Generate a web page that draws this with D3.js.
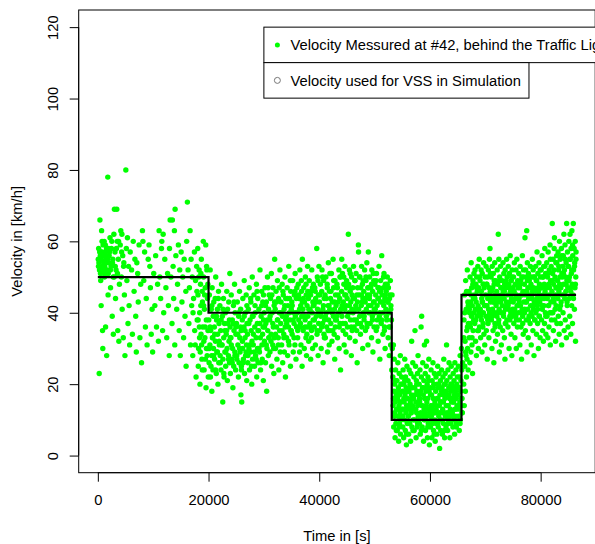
<!DOCTYPE html>
<html>
<head>
<meta charset="utf-8">
<script src="https://cdn.jsdelivr.net/npm/d3@7"></script>
<style>
  html, body { margin: 0; padding: 0; background: #fff; }
  svg { display: block; font-family: "Liberation Sans", Arial, Helvetica, sans-serif; }
</style>
</head>
<body>
<svg id="chart"></svg>
<script>
const measuredEarly = [
  [80,55],[150,58],[200,54],[250,23],[300,52],[380,66],[450,56],[520,49],[550,57],[600,42],[680,63],[720,57],[800,53],[850,35],[900,30],[950,59],
  [1050,54],[1150,60],[1200,50],[1250,53],[1300,57],[1350,59],[1400,36],[1500,55],[1600,28],[1650,56],[1700,52],[1800,78],[1850,45],[1900,58],[1950,54],
  [2050,56],[2200,61],[2300,47],[2400,53],[2530,60],[2600,39],[2700,55],[2800,34],[2900,62],[2950,50],
  [3000,69],[3100,57],[3200,44],[3300,52],[3430,69],[3500,60],[3600,35],[3700,55],[3800,32],[3900,48],
  [4050,59],[4150,63],[4250,50],[4350,62],[4400,41],[4500,56],[4600,33],[4700,54],[4800,45],[4900,28],
  [5060,80],[5150,58],[5250,49],[5350,61],[5450,37],[5550,53],[5650,42],[5750,31],[5850,57],
  [6100,52],[6250,34],[6400,60],[6550,46],[6700,55],[6850,39],[6950,29],
  [7050,54],[7200,51],[7300,43],[7450,59],[7600,33],[7750,48],[7900,26],
  [8060,63],[8150,60],[8300,49],[8450,57],[8600,36],[8750,44],[8900,31],
  [9100,55],[9250,59],[9400,53],[9500,47],[9650,34],[9800,41],[9900,29],
  [10100,51],[10300,42],[10450,56],[10600,36],[10800,48],[10950,32],
  [11070,63],[11200,50],[11350,44],[11500,58],[11560,60],[11700,35],[11800,62],[11900,40],
  [12100,55],[12300,47],[12450,33],[12600,51],[12750,42],[12900,28],[12950,58],
  [13060,66],[13200,50],[13400,37],[13470,66],[13600,53],[13700,44],[13840,63],[13900,31],[13960,69],
  [14100,56],[14250,41],[14400,48],[14550,59],[14700,35],[14800,52],[14900,28],
  [15050,57],[15200,43],[15350,50],[15500,33],[15600,55],[15750,39],[15900,46],[15950,25],
  [16050,60],[16180,71],[16300,52],[16450,37],[16550,47],[16670,63],[16750,31],[16850,55],[16950,42],
  [17050,50],[17150,28],[17300,44],[17450,57],[17500,35],[17650,49],[17750,22],[17850,53],[17950,38],
  [18050,58],[18100,45],[18150,25],[18200,30],[18250,50],[18300,52],[18350,36],[18400,40],[18450,20],[18500,29],[18550,48],[18600,42],[18650,34],[18700,55],[18750,31],[18800,27],[18850,46],[18900,43],[18950,36],
  [19050,60],[19100,50],[19150,32],[19200,24],[19250,41],[19300,45],[19350,33],[19400,47],[19450,27],[19500,59],[19550,19],[19600,38],[19650,53],[19700,52],[19750,28],[19800,44],[19850,30],[19900,35],[19950,22],
  [120,53],[340,57],[480,51],[640,55],[760,60],[880,52],[1120,56],[1280,51],[1440,54],[1580,58],[1740,55],[1880,51],
  [2120,57],[2270,52],[2460,58],[2640,54],[2780,50],[3150,53],[3360,58],[3550,51],[3750,60],[4300,57],[4650,53],
  [17200,40],[17600,31],[17900,46],[18120,38],[18380,33],[18620,51],[18880,24],[19120,42],[19380,36],[19620,30],[19880,48]
];

const measuredMid = [
  [20050,38],[20100,26],[20150,45],[20250,31],[20300,52],[20350,22],[20400,35],[20500,41],[20550,28],[20600,18],[20650,47],[20700,33],[20800,24],[20850,39],[20900,30],[20950,43],
  [21050,36],[21100,27],[21200,44],[21250,32],[21300,50],[21400,23],[21450,38],[21500,29],[21600,41],[21650,34],[21700,20],[21800,46],[21850,26],[21900,37],[21950,31],
  [22050,42],[22100,28],[22200,35],[22250,24],[22350,48],[22400,31],[22500,39],[22570,15],[22600,27],[22700,44],[22750,33],[22800,22],[22900,37],[22950,29],
  [23050,40],[23100,25],[23200,34],[23300,46],[23350,30],[23400,21],[23500,37],[23600,28],[23650,43],[23700,32],[23800,26],[23850,51],[23900,36],[23950,23],
  [24050,33],[24100,45],[24200,27],[24300,38],[24350,30],[24400,19],[24500,42],[24550,25],[24600,35],[24700,48],[24750,29],[24800,40],[24900,24],[24950,34],
  [25050,37],[25100,28],[25200,43],[25300,31],[25400,22],[25450,39],[25500,26],[25600,46],[25650,33],[25700,29],[25800,41],[25850,17],[25900,35],[25950,24],
  [26000,15],[26100,38],[26150,30],[26200,44],[26300,27],[26400,36],[26450,49],[26500,23],[26600,33],[26650,40],[26700,28],[26800,45],[26850,31],[26900,21],[26950,37],
  [27050,34],[27100,26],[27200,41],[27300,30],[27350,47],[27400,24],[27500,38],[27600,29],[27650,43],[27700,35],[27800,20],[27850,32],[27900,50],[27950,27],
  [28050,39],[28100,31],[28200,45],[28300,25],[28350,36],[28400,42],[28500,28],[28600,33],[28650,48],[28700,22],[28800,37],[28850,30],[28900,44],[28950,26],
  [29050,35],[29100,41],[29200,29],[29300,52],[29350,33],[29400,24],[29500,39],[29600,46],[29650,31],[29700,27],[29800,43],[29850,36],[29900,21],[29950,38],
  [30050,40],[30100,32],[30200,47],[30300,26],[30350,37],[30450,43],[30500,18],[30550,30],[30650,50],[30700,35],[30800,28],[30850,41],[30900,33],[30950,45],
  [31050,38],[31100,29],[31200,44],[31300,34],[31350,51],[31400,25],[31500,40],[31600,31],[31650,47],[31700,36],[31800,23],[31850,42],[31900,33],[31950,55],
  [32050,41],[32100,30],[32200,46],[32300,36],[32350,27],[32450,49],[32500,38],[32600,33],[32650,44],[32700,24],[32800,40],[32850,35],[32900,52],[32950,29],
  [33050,37],[33100,43],[33200,31],[33300,48],[33350,39],[33400,26],[33500,45],[33600,34],[33650,41],[33700,29],[33800,50],[33850,36],[33900,22],[33950,44],
  [34050,39],[34100,33],[34200,47],[34300,28],[34350,42],[34450,36],[34500,53],[34550,31],[34650,44],[34700,38],[34800,25],[34850,46],[34900,35],[34950,41],
  [35050,43],[35100,34],[35200,49],[35300,29],[35350,40],[35450,37],[35500,45],[35600,31],[35650,51],[35700,39],[35800,27],[35850,44],[35900,36],[35950,47],
  [36050,40],[36100,33],[36200,48],[36300,38],[36350,44],[36450,29],[36500,52],[36600,36],[36650,42],[36700,31],[36800,46],[36850,39],[36900,25],[36950,55],
  [37050,41],[37100,35],[37200,47],[37300,30],[37350,43],[37450,38],[37500,50],[37600,33],[37650,45],[37700,28],[37800,42],[37850,36],[37900,53],[37950,39],
  [38050,44],[38100,32],[38200,49],[38300,37],[38350,41],[38450,27],[38500,46],[38600,35],[38650,52],[38700,40],[38800,30],[38850,43],[38900,38],[38950,48],
  [39050,42],[39100,36],[39200,47],[39300,31],[39350,44],[39450,39],[39550,58],[39600,34],[39650,50],[39700,41],[39800,28],[39850,45],[39900,37],[39950,53],
  [40050,43],[40100,35],[40200,48],[40300,39],[40350,30],[40450,46],[40500,52],[40600,37],[40650,41],[40700,26],[40800,49],[40850,34],[40900,44],[40950,38],
  [41050,45],[41100,33],[41200,50],[41300,40],[41350,36],[41450,47],[41500,29],[41600,42],[41650,54],[41700,38],[41800,31],[41850,46],[41900,41],[41950,35],
  [42050,44],[42100,37],[42200,51],[42300,32],[42350,43],[42500,55],[42550,39],[42600,47],[42700,34],[42750,41],[42800,27],[42850,49],[42900,36],[42950,45],
  [43050,42],[43100,38],[43200,48],[43300,33],[43400,45],[43500,40],[43550,52],[43600,30],[43700,44],[43750,37],[43800,50],[43850,24],[43900,41],[44070,55],
  [44050,46],[44100,39],[44200,51],[44300,35],[44350,43],[44450,48],[44500,31],[44600,41],[44650,53],[44700,37],[44800,45],[44850,29],[44900,42],[44950,49],
  [45050,44],[45100,36],[45260,62],[45300,48],[45350,40],[45450,52],[45500,33],[45600,46],[45650,38],[45700,43],[45800,28],[45850,50],[45900,41],[45950,35],
  [46050,47],[46100,40],[46200,53],[46300,36],[46350,44],[46450,49],[46500,32],[46600,42],[46650,51],[46700,38],[46800,45],[46850,26],[46900,43],[46950,37],
  [47070,59],[47100,57],[47200,45],[47300,39],[47350,50],[47450,34],[47500,47],[47600,42],[47650,53],[47700,36],[47800,48],[47850,30],[47900,44],[47950,40],
  [48050,46],[48100,38],[48200,52],[48300,43],[48350,35],[48450,49],[48500,41],[48600,54],[48650,37],[48700,45],[48800,31],[48870,57],[48900,47],[48950,40],
  [49050,44],[49100,50],[49200,37],[49300,47],[49350,42],[49450,33],[49500,52],[49600,39],[49650,46],[49700,29],[49800,43],[49850,49],[49900,36],[49950,41],
  [50050,48],[50100,40],[50200,45],[50300,35],[50350,51],[50450,42],[50500,38],[50600,47],[50650,32],[50700,44],[50800,53],[50850,39],[50900,46],[50950,27],
  [51050,43],[51100,49],[51200,37],[51290,56],[51350,45],[51450,40],[51500,34],[51600,47],[51650,42],[51700,51],[51800,36],[51850,44],[51900,30],[51950,48],
  [52050,41],[52100,46],[52200,38],[52300,50],[52350,43],[52450,33],[52500,47],[52600,40],[52650,28],[52700,44],[52800,36],[52850,49],[52900,31],[52950,42],
  [53050,38],[53100,24],[53150,45],[53200,30],
  // denser core of the cloud
  [20120,30],[20280,36],[20440,25],[20610,42],[20770,33],[20930,28],
  [21120,34],[21280,24],[21440,39],[21610,29],[21770,44],[21930,32],
  [22120,26],[22280,38],[22440,31],[22610,41],[22770,23],[22930,35],
  [23120,29],[23280,35],[23440,41],[23610,27],[23770,38],[23930,33],
  [24120,31],[24280,26],[24440,37],[24610,43],[24770,28],[24930,36],
  [25120,27],[25280,34],[25440,40],[25610,30],[25770,36],[25930,25],
  [26120,32],[26280,26],[26440,39],[26610,35],[26770,29],[26930,42],
  [27120,28],[27280,37],[27440,31],[27610,44],[27770,25],[27930,39],
  [28120,34],[28280,29],[28440,40],[28610,27],[28770,46],[28930,35],
  [29120,30],[29280,37],[29440,26],[29610,42],[29770,34],[29930,45],
  [30120,36],[30280,42],[30440,31],[30610,38],[30770,47],[30930,33],
  [31120,39],[31280,32],[31440,45],[31610,37],[31770,30],[31930,43],
  [32120,34],[32280,43],[32440,38],[32610,31],[32770,47],[32930,40],
  [33120,40],[33280,35],[33440,46],[33610,33],[33770,42],[33930,38],
  [34120,37],[34280,44],[34440,32],[34610,40],[34770,49],[34930,35],
  [35120,42],[35280,38],[35440,33],[35610,46],[35770,40],[35930,36],
  [36120,35],[36280,45],[36440,41],[36610,37],[36770,49],[36930,43],
  [37120,44],[37280,39],[37440,36],[37610,48],[37770,34],[37930,46],
  [38120,41],[38280,36],[38440,45],[38610,33],[38770,47],[38930,42],
  [39120,38],[39280,46],[39440,43],[39610,35],[39770,49],[39930,40],
  [40120,45],[40280,40],[40440,36],[40610,50],[40770,42],[40930,33],
  [41120,39],[41280,44],[41440,48],[41610,35],[41770,42],[41930,51],
  [42120,46],[42280,40],[42440,35],[42610,49],[42770,43],[42930,38],
  [43120,39],[43280,47],[43440,43],[43610,36],[43770,50],[43930,41],
  [44120,42],[44280,37],[44440,50],[44610,45],[44770,34],[44930,47],
  [45120,39],[45280,47],[45440,42],[45610,51],[45770,36],[45930,45],
  [46120,44],[46280,38],[46440,49],[46610,41],[46770,35],[46930,47],
  [47120,41],[47280,50],[47440,37],[47610,45],[47770,43],[47930,49],
  [48120,39],[48280,44],[48440,50],[48610,36],[48770,47],[48930,42],
  [49120,45],[49280,40],[49440,48],[49610,38],[49770,51],[49930,43],
  [50120,41],[50280,49],[50440,36],[50610,44],[50770,47],[50930,40],
  [51120,46],[51280,38],[51440,43],[51610,50],[51770,35],[51930,45],
  [52120,39],[52280,48],[52440,43],[52610,36],[52770,45],[52930,41]
];

const measuredJam = [
  [53300,22],[53350,14],[53400,31],[53450,8],[53500,18],[53550,27],[53600,11],[53650,20],[53700,5],[53750,15],[53800,24],[53850,9],[53900,17],[53950,13],
  [54050,21],[54100,7],[54150,16],[54200,26],[54250,11],[54300,19],[54350,4],[54400,14],[54450,23],[54500,9],[54550,17],[54600,12],[54650,28],[54700,6],[54750,20],[54800,15],[54850,10],[54900,22],[54950,13],
  [55050,18],[55100,8],[55150,24],[55200,13],[55250,5],[55300,20],[55350,15],[55400,10],[55450,27],[55500,17],[55550,7],[55600,22],[55650,12],[55700,19],[55750,3],[55800,14],[55850,25],[55900,9],[55950,16],
  [56050,21],[56100,11],[56150,6],[56200,18],[56250,24],[56300,13],[56350,9],[56400,20],[56450,15],[56500,4],[56550,23],[56600,12],[56650,17],[56700,32],[56750,8],[56800,19],[56850,14],[56900,26],[56950,10],
  [57050,16],[57100,22],[57150,7],[57200,13],[57250,19],[57300,35],[57350,10],[57400,25],[57450,15],[57500,5],[57550,21],[57600,12],[57650,18],[57700,8],[57750,23],[57800,14],[57850,28],[57900,11],[57950,17],
  [58050,20],[58100,9],[58150,15],[58200,24],[58250,6],[58300,18],[58350,12],[58400,36],[58450,22],[58500,39],[58550,14],[58600,8],[58650,19],[58700,26],[58750,11],[58800,17],[58850,4],[58900,21],[58950,13],
  [59000,31],[59050,16],[59100,10],[59150,23],[59200,7],[59250,19],[59300,14],[59350,25],[59400,32],[59450,11],[59500,20],[59550,5],[59600,16],[59650,22],[59700,9],[59750,13],[59800,27],[59850,18],[59900,3],[59950,12],
  [60050,19],[60100,8],[60150,14],[60200,24],[60250,11],[60300,17],[60350,5],[60400,21],[60450,13],[60500,9],[60550,26],[60600,16],[60650,7],[60700,20],[60750,12],[60800,23],[60850,10],[60900,15],[60950,4],
  [61050,18],[61100,22],[61150,9],[61200,14],[61250,6],[61300,20],[61350,12],[61400,25],[61450,16],[61500,8],[61550,19],[61600,11],[61650,23],[61700,14],[61750,2],[61800,17],[61850,10],[61900,21],[61950,7],
  [62050,15],[62100,24],[62150,10],[62200,19],[62250,6],[62300,13],[62350,22],[62400,17],[62450,9],[62500,27],[62550,12],[62600,20],[62650,5],[62700,16],[62750,23],[62800,11],[62850,18],[62900,8],[62950,14],
  [63000,31],[63050,21],[63100,12],[63150,17],[63200,7],[63250,24],[63300,14],[63350,10],[63400,19],[63450,26],[63500,11],[63550,16],[63600,5],[63650,22],[63700,13],[63750,18],[63800,9],[63850,25],[63900,15],[63950,20],
  [64050,12],[64100,19],[64150,8],[64200,23],[64250,15],[64300,10],[64350,21],[64400,17],[64450,6],[64500,26],[64550,13],[64600,18],[64650,11],[64700,24],[64750,16],[64800,9],[64850,20],[64900,14],[64950,22],
  [65050,17],[65100,11],[65150,25],[65200,13],[65250,19],[65300,7],[65350,22],[65400,15],[65450,28],[65500,10],[65550,18],[65600,21],[65650,14],[65700,30],[65750,24],[65800,16],[65850,12],[65900,26],
  [53420,16],[53610,12],[53780,21],[53930,7],
  [54120,13],[54280,18],[54440,8],[54610,15],[54770,11],[54930,20],
  [55120,11],[55280,16],[55440,21],[55610,13],[55770,6],[55930,18],
  [56120,14],[56280,9],[56440,19],[56610,12],[56770,16],[56930,7],
  [57120,10],[57280,17],[57440,13],[57610,20],[57770,9],[57930,15],
  [58120,16],[58280,11],[58440,7],[58610,14],[58770,19],[58930,10],
  [59120,12],[59280,18],[59440,15],[59610,8],[59770,21],[59930,13],
  [60120,17],[60280,10],[60440,14],[60610,19],[60770,6],[60930,12],
  [61120,13],[61280,16],[61440,9],[61610,20],[61770,12],[61930,15],
  [62120,18],[62280,12],[62440,15],[62610,7],[62770,20],[62930,11],
  [63120,14],[63280,9],[63440,17],[63610,12],[63770,20],[63930,16],
  [64120,11],[64280,15],[64440,19],[64610,13],[64770,8],[64930,17],
  [65120,14],[65280,19],[65440,9],[65610,16],[65770,12]
];

const measuredLate = [
  [66100,20],[66150,38],[66200,14],[66250,45],[66300,25],[66350,32],[66400,18],[66450,49],[66500,28],[66550,41],[66600,22],[66650,35],[66700,27],[66750,52],[66800,30],[66850,43],[66900,24],[66950,37],
  [67050,46],[67100,33],[67150,40],[67200,26],[67250,50],[67300,36],[67350,43],[67400,29],[67450,54],[67500,39],[67550,47],[67600,31],[67650,42],[67700,23],[67750,48],[67800,35],[67850,44],[67900,38],[67950,51],
  [68050,45],[68100,37],[68150,52],[68200,41],[68250,32],[68300,48],[68350,43],[68400,28],[68450,50],[68500,39],[68550,46],[68600,35],[68650,53],[68700,42],[68750,30],[68800,47],[68850,40],[68900,55],[68950,36],
  [69050,49],[69100,41],[69150,33],[69200,46],[69250,52],[69300,38],[69350,44],[69400,29],[69450,51],[69500,43],[69550,36],[69600,48],[69650,40],[69700,54],[69750,34],[69800,47],[69850,42],[69900,31],[69950,50],
  [70050,45],[70100,39],[70150,53],[70200,35],[70250,48],[70300,42],[70350,27],[70400,50],[70450,44],[70500,37],[70550,52],[70600,41],[70650,33],[70700,47],[70750,55],[70800,39],[70850,58],[70900,46],[70950,43],
  [71050,50],[71100,38],[71150,44],[71200,30],[71250,53],[71300,41],[71350,47],[71400,35],[71450,51],[71500,43],[71550,26],[71600,48],[71650,40],[71700,54],[71750,37],[71800,45],[71850,32],[71900,49],[71950,42],
  [72050,46],[72100,39],[72150,52],[72200,34],[72250,48],[72300,43],[72350,62],[72400,37],[72450,55],[72500,41],[72550,29],[72600,50],[72650,44],[72700,36],[72750,53],[72800,47],[72850,40],[72900,31],[72950,45],
  [73050,49],[73100,42],[73150,35],[73200,54],[73250,46],[73300,39],[73350,51],[73400,44],[73450,33],[73500,48],[73550,27],[73600,52],[73650,41],[73700,37],[73750,47],[73800,43],[73850,55],[73900,38],[73950,50],
  [74050,45],[74100,36],[74150,53],[74200,41],[74250,48],[74300,30],[74350,51],[74400,43],[74450,38],[74500,56],[74550,46],[74600,40],[74650,34],[74700,49],[74750,44],[74800,28],[74850,52],[74900,39],[74950,47],
  [75050,43],[75100,50],[75150,37],[75200,46],[75250,54],[75300,41],[75350,33],[75400,48],[75450,44],[75500,39],[75550,52],[75600,30],[75650,45],[75700,55],[75750,42],[75800,36],[75850,49],[75900,47],[75950,40],
  [76050,51],[76100,44],[76150,38],[76200,47],[76250,31],[76300,53],[76350,42],[76400,49],[76450,36],[76500,45],[76550,27],[76600,50],[76650,41],[76700,56],[76750,39],[76800,46],[76850,34],[76900,52],[76950,43],
  [77050,48],[77100,40],[77170,61],[77200,45],[77250,35],[77300,52],[77350,43],[77400,38],[77450,50],[77480,63],[77500,46],[77550,29],[77600,54],[77650,41],[77700,47],[77750,33],[77800,51],[77850,44],[77900,39],[77950,49],
  [78050,45],[78100,37],[78150,53],[78200,42],[78250,48],[78300,31],[78350,50],[78400,44],[78450,39],[78500,55],[78550,46],[78600,35],[78650,52],[78700,41],[78750,47],[78800,28],[78850,43],[78900,50],[78950,38],
  [79050,46],[79100,53],[79150,40],[79200,49],[79250,34],[79300,44],[79350,57],[79400,42],[79450,37],[79500,51],[79550,47],[79600,30],[79650,45],[79700,54],[79750,39],[79800,48],[79850,43],[79900,33],[79950,50],
  [80050,44],[80100,52],[80150,38],[80200,47],[80250,56],[80300,41],[80350,35],[80400,50],[80450,45],[80500,32],[80550,53],[80600,42],[80650,48],[80700,37],[80750,58],[80800,46],[80850,40],[80900,51],[80950,34],
  [81050,47],[81100,54],[81150,39],[81200,44],[81250,50],[81300,33],[81350,57],[81400,42],[81450,48],[81500,36],[81550,52],[81600,45],[81650,40],[81700,59],[81750,31],[81800,49],[81850,43],[81900,53],[81950,38],
  [82050,46],[82100,65],[82150,51],[82200,40],[82250,55],[82300,35],[82350,48],[82400,43],[82450,58],[82500,61],[82550,38],[82600,50],[82650,45],[82700,32],[82750,54],[82800,42],[82850,47],[82900,56],[82950,37],
  [83050,49],[83100,44],[83150,57],[83200,39],[83250,52],[83300,46],[83350,34],[83400,60],[83450,41],[83500,50],[83550,55],[83600,37],[83650,47],[83700,43],[83750,58],[83800,31],[83850,51],[83900,45],[83950,53],
  [84050,40],[84100,56],[84150,48],[84200,62],[84250,35],[84300,52],[84350,44],[84400,59],[84450,38],[84500,50],[84550,46],[84600,54],[84650,33],[84700,65],[84750,49],[84800,42],[84850,57],[84900,47],[84950,36],
  [85050,53],[85100,60],[85150,44],[85200,50],[85250,39],[85300,62],[85350,55],[85400,47],[85450,34],[85500,58],[85550,51],[85600,42],[85650,63],[85700,48],[85750,37],[85800,56],[85850,45],[85900,65],[85950,52],
  [86050,58],[86100,41],[86150,54],[86200,47],[86250,60],[86300,32],[86350,50],[86400,57],
  [66120,33],[66280,40],[66440,29],[66610,46],[66770,36],[66930,42],
  [67120,41],[67280,37],[67440,45],[67610,33],[67770,49],[67930,40],
  [68120,44],[68280,38],[68440,47],[68610,41],[68770,35],[68930,50],
  [69120,39],[69280,46],[69440,43],[69610,37],[69770,48],[69930,42],
  [70120,42],[70280,48],[70440,38],[70610,45],[70770,40],[70930,51],
  [71120,46],[71280,39],[71440,43],[71610,49],[71770,36],[71930,44],
  [72120,40],[72280,45],[72440,38],[72610,49],[72770,43],[72930,47],
  [73120,44],[73280,40],[73440,46],[73610,37],[73770,49],[73930,42],
  [74120,42],[74280,47],[74440,39],[74610,45],[74770,50],[74930,41],
  [75120,46],[75280,40],[75440,44],[75610,38],[75770,48],[75930,42],
  [76120,43],[76280,48],[76440,40],[76610,45],[76770,37],[76930,50],
  [77120,41],[77280,46],[77440,43],[77610,49],[77770,38],[77930,44],
  [78120,47],[78280,40],[78440,45],[78610,42],[78770,50],[78930,38],
  [79120,43],[79280,49],[79440,41],[79610,46],[79770,39],[79930,52],
  [80120,47],[80280,42],[80440,50],[80610,44],[80770,53],[80930,39],
  [81120,45],[81280,51],[81440,42],[81610,47],[81770,55],[81930,40],
  [82120,49],[82280,44],[82440,52],[82610,41],[82770,47],[82930,54],
  [83120,45],[83280,53],[83440,48],[83610,42],[83770,56],[83930,50],
  [84120,51],[84280,45],[84440,55],[84610,48],[84770,43],[84930,53],
  [85120,49],[85280,55],[85440,46],[85610,52],[85770,59],[85930,44],
  [86120,53],[86280,48],[86380,55]
];

// velocity used for VSS (step function)
const stepTimes = [0, 20000, 53100, 65700, 86400];
const stepLevels = [50, 40, 10, 45];

const xTicks = [0, 20000, 40000, 60000, 80000];
const yTicks = [0, 20, 40, 60, 80, 100, 120];
const legendLabels = ["Velocity Messured at #42, behind the Traffic Light", "Velocity used for VSS in Simulation"];

const width = 595, height = 544;
const margin = {top: 10, right: -0.2, bottom: 71.3, left: 78.7};
const fontSize = 14.75;

const svg = d3.select("#chart").attr("width", width).attr("height", height);

// R style: data range padded by 4% on each side
const pad = (a, b) => [a - (b - a) * 0.04, b + (b - a) * 0.04];
const x = d3.scaleLinear().domain(pad(0, 86400)).range([margin.left, width - margin.right]);
const y = d3.scaleLinear().domain(pad(0, 120)).range([height - margin.bottom, margin.top]);

const allPoints = measuredEarly.concat(measuredMid, measuredJam, measuredLate);

svg.append("g")
  .selectAll("circle")
  .data(allPoints)
  .join("circle")
    .attr("cx", d => x(d[0]))
    .attr("cy", d => y(d[1]))
    .attr("r", 2.7)
    .attr("fill", "#00ff00");

// step line
const steps = [];
stepLevels.forEach((v, i) => {
  steps.push([stepTimes[i], v]);
  steps.push([stepTimes[i + 1], v]);
});
svg.append("path")
  .datum(steps)
  .attr("fill", "none")
  .attr("stroke", "#000")
  .attr("stroke-width", 2.2)
  .attr("d", d3.line().x(d => x(d[0])).y(d => y(d[1])));

// frame
svg.append("rect")
  .attr("x", margin.left)
  .attr("y", margin.top)
  .attr("width", width - margin.right - margin.left)
  .attr("height", height - margin.bottom - margin.top)
  .attr("fill", "none")
  .attr("stroke", "#000")
  .attr("stroke-width", 1);

// axes
const xAxis = svg.append("g")
  .attr("transform", `translate(0,${height - margin.bottom})`)
  .call(d3.axisBottom(x).tickValues(xTicks).tickFormat(d3.format("d")).tickSize(9).tickSizeOuter(0));
xAxis.select(".domain").remove();
xAxis.append("line")
  .attr("x1", x(xTicks[0])).attr("x2", x(xTicks[xTicks.length - 1]))
  .attr("stroke", "#000");
xAxis.selectAll("text")
  .attr("y", 32.3).attr("dy", 0)
  .attr("fill", "#000")
  .style("font-size", fontSize + "px")
  .style("font-family", "Liberation Sans, Arial, sans-serif");

const yAxis = svg.append("g")
  .attr("transform", `translate(${margin.left},0)`)
  .call(d3.axisLeft(y).tickValues(yTicks).tickSize(9).tickSizeOuter(0));
yAxis.select(".domain").remove();
yAxis.append("line")
  .attr("y1", y(yTicks[0])).attr("y2", y(yTicks[yTicks.length - 1]))
  .attr("stroke", "#000");
yAxis.selectAll("text")
  .attr("x", 0).attr("dy", 0)
  .attr("transform", "translate(-20.4,0) rotate(-90)")
  .attr("text-anchor", "middle")
  .attr("fill", "#000")
  .style("font-size", fontSize + "px")
  .style("font-family", "Liberation Sans, Arial, sans-serif");

// axis titles
svg.append("text")
  .attr("x", (margin.left + width - margin.right) / 2)
  .attr("y", 540.5)
  .attr("text-anchor", "middle")
  .style("font-size", fontSize + "px")
  .text("Time in [s]");

svg.append("text")
  .attr("transform", `translate(22,${(margin.top + height - margin.bottom) / 2}) rotate(-90)`)
  .attr("text-anchor", "middle")
  .style("font-size", fontSize + "px")
  .text("Velocity in [km/h]");

// legend, anchored at (30000, 120) like R legend(); the first row runs past the right edge as in the original
const lx = x(30000), ly = y(120);
const rowH = 35.5;
const legend = svg.append("g");
legendLabels.forEach((label, i) => {
  const g = legend.append("g").attr("transform", `translate(${lx},${ly + i * rowH})`);
  const box = g.append("rect")
    .attr("height", rowH)
    .attr("fill", "#fff")
    .attr("stroke", "#000")
    .attr("stroke-width", 1);
  const t = g.append("text")
    .attr("x", 26.7)
    .attr("y", rowH / 2 + 5.2)
    .style("font-size", fontSize + "px")
    .text(label);
  box.attr("width", t.node().getComputedTextLength() + 26.7 + 8);
  if (i === 0) {
    g.append("circle").attr("cx", 13.5).attr("cy", rowH / 2).attr("r", 2.5).attr("fill", "#00ff00");
  } else {
    g.append("circle").attr("cx", 13.5).attr("cy", rowH / 2).attr("r", 3).attr("fill", "none")
      .attr("stroke", "#777").attr("stroke-width", 1);
  }
});
</script>
</body>
</html>
